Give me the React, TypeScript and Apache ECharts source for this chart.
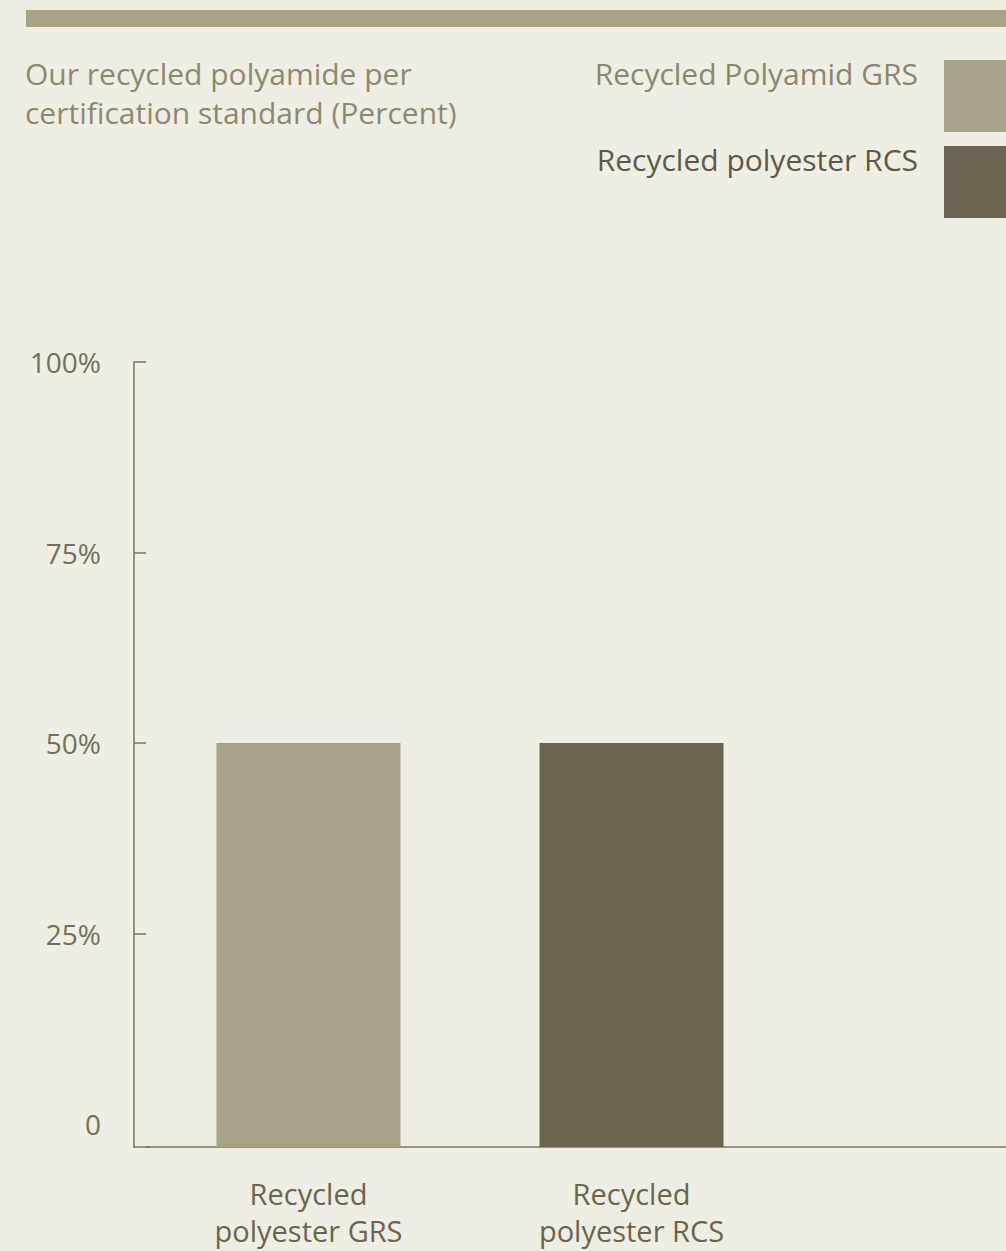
import React, { useEffect, useRef } from "react";
import * as echarts from "echarts";

const categories = ["Recycled\npolyester GRS", "Recycled\npolyester RCS", ""];
const seriesNames = ["Recycled Polyamid GRS", "Recycled polyester RCS"];
const grsValues: (number | null)[] = [50, null, null];
const rcsValues: (number | null)[] = [null, 50, null];
const yTickValues = [0, 25, 50, 75, 100];
const titleLines = ["Our recycled polyamide per", "certification standard (Percent)"];

const BG = "#EEEEE4";
const LIGHT = "#A8A289";
const DARK = "#6B644E";
const AXIS = "#78735E";
const FONT = "'Open Sans', 'Noto Sans', sans-serif";

export default function App() {
  const ref = useRef<HTMLDivElement>(null);
  useEffect(() => {
    document.body.style.margin = "0";
    document.body.style.background = BG;
    const chart = echarts.init(ref.current!, null, { renderer: "svg" });
    chart.setOption({
      animation: false,
      backgroundColor: BG,
      textStyle: { fontFamily: FONT },
      title: {
        text: titleLines.join("\n"),
        left: 25,
        top: 54,
        padding: 0,
        textStyle: {
          fontFamily: FONT,
          fontSize: 30,
          fontWeight: 400,
          lineHeight: 39,
          color: "#8E8870",
        },
      },
      legend: {
        orient: "vertical",
        right: -10,
        top: 50,
        padding: 0,
        align: "right",
        itemWidth: 72,
        itemHeight: 72,
        itemGap: -6,
        icon: "rect",
        selectedMode: false,
        formatter: (name: string) => name + "\n ",
        textStyle: {
          fontFamily: FONT,
          fontSize: 30,
          fontWeight: 400,
          lineHeight: 46,
          padding: [0, 21, 0, 0],
        },
        data: [
          { name: seriesNames[0], textStyle: { color: "#8C866F" } },
          { name: seriesNames[1], textStyle: { color: "#5E5946" } },
        ],
      },
      graphic: [
        {
          type: "rect",
          shape: { x: 26, y: 10, width: 990, height: 17 },
          style: { fill: LIGHT },
        },
        {
          type: "line",
          shape: { x1: 133, y1: 1147, x2: 150, y2: 1147 },
          style: { stroke: AXIS, lineWidth: 1.5 },
        },
      ],
      grid: {
        left: 147,
        width: 969,
        top: 362,
        bottom: 104,
        containLabel: false,
        outerBoundsMode: "none",
      },
      xAxis: {
        type: "category",
        data: categories,
        axisLine: { show: true, onZero: false, lineStyle: { color: AXIS, width: 1.5 } },
        axisTick: { show: false },
        axisLabel: {
          interval: 0,
          margin: 28,
          fontFamily: FONT,
          fontSize: 29,
          fontWeight: 400,
          lineHeight: 37,
          color: "#6B654F",
          align: "center",
        },
      },
      yAxis: {
        type: "value",
        min: -3,
        max: 100,
        startValue: -3,
        offset: 13,
        splitLine: { show: false },
        axisLine: { show: true, lineStyle: { color: AXIS, width: 1.5 } },
        axisTick: {
          show: true,
          inside: true,
          length: 12,
          customValues: [25, 50, 75, 100],
          lineStyle: { color: AXIS, width: 1.5 },
        },
        axisLabel: {
          customValues: yTickValues,
          margin: 33,
          fontFamily: FONT,
          fontSize: 28,
          fontWeight: 400,
          color: "#746F59",
          formatter: (v: number) => (v === 0 ? "0" : v + "%"),
        },
      },
      series: [
        {
          name: seriesNames[0],
          type: "bar",
          data: grsValues,
          barWidth: 184,
          barGap: "-100%",
          itemStyle: { color: LIGHT },
        },
        {
          name: seriesNames[1],
          type: "bar",
          data: rcsValues,
          barWidth: 184,
          barGap: "-100%",
          itemStyle: { color: DARK },
        },
      ],
    });
    return () => chart.dispose();
  }, []);
  return (
    <div
      ref={ref}
      style={{ position: "fixed", left: 0, top: 0, width: 1006, height: 1251 }}
    />
  );
}
